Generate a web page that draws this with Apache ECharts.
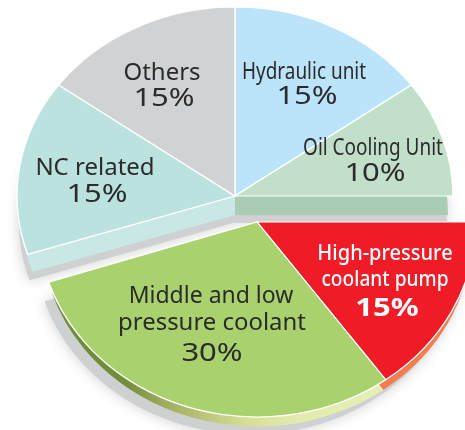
<!DOCTYPE html>
<html>
<head>
<meta charset="utf-8">
<style>
  html, body { margin: 0; padding: 0; background: #fff; }
  #chart { width: 465px; height: 430px; }
</style>
<script src="https://cdn.jsdelivr.net/npm/echarts@6/dist/echarts.min.js"></script>
</head>
<body>
<div id="chart"></div>
<script>
const categories = ['Hydraulic unit', 'Oil Cooling Unit', 'High-pressure\ncoolant pump', 'Middle and low\npressure coolant', 'NC related', 'Others']
const shares = [15, 10, 15, 30, 15, 15]
const pulledOut = [false, false, true, true, false, false]

const topColors = ['#bbe3fa', '#c1dfc9', '#ef1c27', '#a9d26e', '#bbe2df', '#d1d2d4']
// hydraulic and others only show in the notch behind the cut faces, so they take the neighbour's colour
const sideColors = ['#a8ccb4', '#a8ccb4', '#f47c50', null, '#c8e7e5', '#c8e7e5']
const labelColors = ['#2b2b2b', '#2b2b2b', '#ffffff', '#2b2b2b', '#2b2b2b', '#2b2b2b']

// olive rim of the big slice goes from dark on the left to pale on the right
const greenRim = new echarts.graphic.LinearGradient(0, 0, 1, 0, [
  { offset: 0, color: '#6f8c3c' },
  { offset: 0.22, color: '#728d3b' },
  { offset: 0.34, color: '#a0ad60' },
  { offset: 0.58, color: '#d5dd95' },
  { offset: 0.75, color: '#e3ecaf' },
  { offset: 1, color: '#e6efb4' }
])

const back = { cx: 235, cy: 196, rx: 218, ry: 189, depth: 19, inset: 5 }
const front = { cx: 257, cy: 222, rx: 219, ry: 195, depth: 13, inset: 4 }

// one entry per text line, name lines first and the percent last: x, y, font size, x stretch
const labelLayout = [
  [[304, 72, 24, 0.79], [307, 97, 25, 1.24]],
  [[373, 148, 24, 0.79], [375, 174, 25, 1.24]],
  [[385, 254, 22, 0.91], [385, 280, 22, 0.87], [387, 309, 25, 1.24]],
  [[211, 296, 23, 1.0], [212, 323, 23, 1.04], [212, 354, 25, 1.24]],
  [[95, 168, 24, 1.0], [97, 195, 25, 1.24]],
  [[162, 73, 24, 1.0], [164, 99, 25, 1.24]]
]

const total = shares.reduce((a, b) => a + b, 0)

function sliceAngles(i) {
  const before = shares.slice(0, i).reduce((a, b) => a + b, 0)
  const toRad = (v) => (v / total) * Math.PI * 2 - Math.PI / 2
  return [toRad(before), toRad(before + shares[i])]
}

function slice(i, pie, dx, dy, shrink, style) {
  const [startAngle, endAngle] = sliceAngles(i)
  const r = pie.rx - shrink
  return {
    type: 'sector',
    x: pie.cx + dx,
    y: pie.cy + dy,
    scaleY: pie.ry / pie.rx,
    shape: { cx: 0, cy: 0, r0: 0, r, startAngle, endAngle, clockwise: true },
    style
  }
}

function renderShadow(params, api) {
  const i = api.value(0)
  const shadow = { fill: '#cfd0d2', shadowBlur: 14, shadowColor: '#cfd0d2' }
  if (pulledOut[i]) return slice(i, front, -7, 20, 3, shadow)
  return slice(i, back, -2, 27, 4, shadow)
}

function renderSide(params, api) {
  const i = api.value(0)
  const pie = pulledOut[i] ? front : back
  return slice(i, pie, 0, pie.depth, pie.inset, { fill: sideColors[i] || greenRim })
}

function renderTop(params, api) {
  const i = api.value(0)
  const pie = pulledOut[i] ? front : back
  return slice(i, pie, 0, 0, 0, { fill: topColors[i], stroke: '#fff', lineWidth: 1.4, strokeNoScale: true })
}

function renderLabel(params, api) {
  const i = api.value(0)
  const lines = categories[i].split('\n').concat(api.value(1) + '%')
  return {
    type: 'group',
    children: lines.map((text, n) => {
      const [x, y, size, stretch] = labelLayout[i][n]
      const weight = i === 2 ? (n === lines.length - 1 ? 'bold ' : '500 ') : ''
      return {
        type: 'text',
        x,
        y,
        scaleX: stretch,
        style: {
          text,
          x: 0,
          y: 0,
          align: 'center',
          verticalAlign: 'middle',
          fill: labelColors[i],
          font: weight + size + 'px "Noto Sans", sans-serif'
        }
      }
    })
  }
}

const rows = categories.map((name, i) => [i, shares[i], name])
const layer = (name, renderItem, z) => ({
  type: 'custom',
  name,
  coordinateSystem: 'none',
  renderItem,
  data: rows,
  z,
  silent: true,
  animation: false
})

const chart = echarts.init(document.getElementById('chart'))
chart.setOption({
  backgroundColor: '#fff',
  animation: false,
  series: [
    layer('shadow', renderShadow, 1),
    layer('side', renderSide, 2),
    layer('top', renderTop, 3),
    layer('label', renderLabel, 4)
  ]
})
</script>
</body>
</html>
